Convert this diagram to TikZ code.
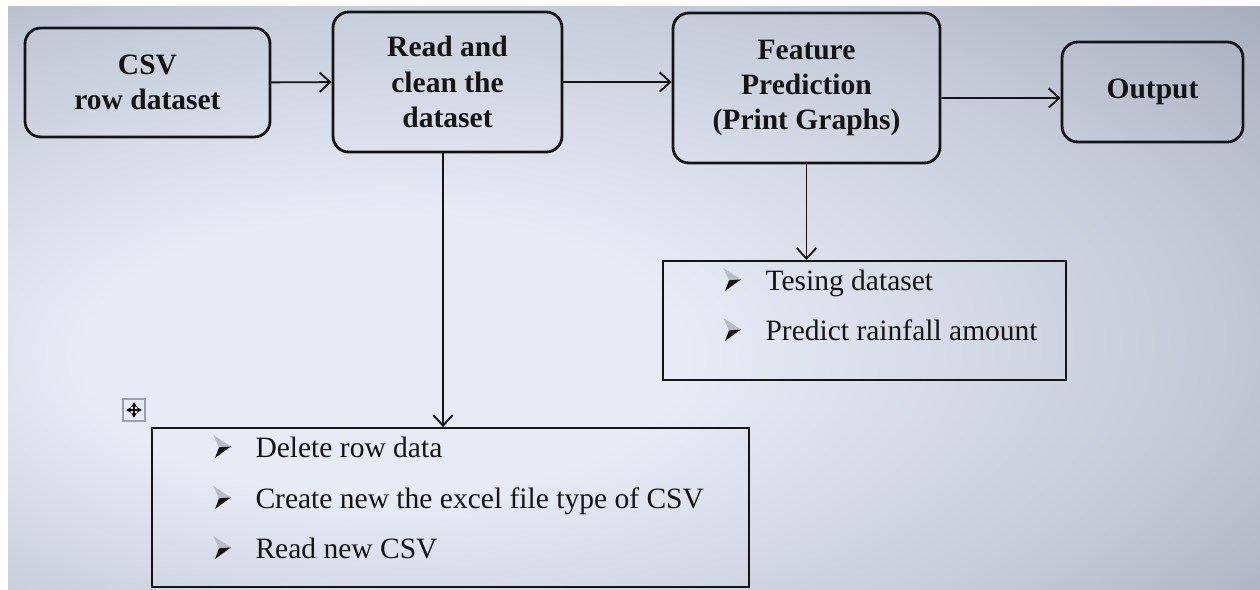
\documentclass[tikz,border=0pt]{standalone}
\usepackage{fontspec}
\setmainfont{Liberation Serif}
\usetikzlibrary{arrows.meta,positioning}
\definecolor{flink}{HTML}{141414}
\definecolor{bgcentre}{HTML}{E6EBF6}
\definecolor{bgmid}{HTML}{C4CAD7}
\definecolor{bgedge}{HTML}{9096A7}
\definecolor{bgcorner}{HTML}{60667A}
\definecolor{gripgray}{HTML}{9AA0AE}
\definecolor{dartlight}{HTML}{B8BCC6}
\pgfdeclareradialshading{vignette}{\pgfpoint{-12bp}{-6bp}}{color(0bp)=(bgcentre); color(12bp)=(bgcentre); color(30bp)=(bgmid); color(50bp)=(bgedge); color(72bp)=(bgcorner)}
% top-lit arrowhead used as list bullet
\newcommand{\itemarrow}{\makebox[24pt][l]{\tikz[x=1pt,y=1pt,baseline=0pt]{%
  \fill[dartlight] (0,12.5) -- (10,6) -- (3.2,5.5) -- cycle;
  \fill[flink] (3.2,5.5) -- (10,6) -- (1,-0.5) -- cycle;}}}
\tikzset{
  stage/.style={rectangle,rounded corners=9pt,draw=flink,line width=1.6pt,align=center,font=\fontsize{16.8}{20}\selectfont\bfseries,text=flink,inner sep=2pt},
  listbox/.style={rectangle,draw=flink,line width=1.1pt,inner sep=0pt},
  listitem/.style={anchor=base west,inner sep=0pt,font=\fontsize{16.8}{20}\selectfont,text=flink},
  flow/.style={-{Straight Barb[length=6pt,width=11pt]},draw=flink,line width=1.1pt},
  grip/.style={rectangle,draw=gripgray,fill=bgcentre,line width=.6pt,minimum size=.44cm,inner sep=0pt},
  griparrow/.style={-{Latex[length=2.6pt,width=3.4pt]},draw=black,line width=1pt},
}

\begin{document}
\begin{tikzpicture}[x=0.02cm,y=-0.02cm]
  \useasboundingbox (0,0) rectangle (1260,589);
  \fill[white] (0,0) rectangle (1260,589);
  \shade[shading=vignette] (8,6) rectangle (1260,589);
  % processing stages
  \node[stage,minimum width=4.9cm,minimum height=2.18cm] (csv) at (147.5,82.5) {CSV\\row dataset};
  \node[stage,minimum width=4.58cm,minimum height=2.8cm] (read) at (447.5,82) {Read and\\clean the\\dataset};
  \node[stage,minimum width=5.34cm,minimum height=3cm] (feat) at (806.5,88) {Feature\\Prediction\\(Print Graphs)};
  \node[stage,minimum width=3.62cm,minimum height=2cm] (out) at (1152.5,92) {Output};
  % detail lists
  \node[listbox,minimum width=8.06cm,minimum height=2.38cm] (testlist) at (864.5,320.5) {};
  \node[listitem] (t1) at (723,290) {\itemarrow Tesing dataset};
  \node[listitem] (t2) at (723,340) {\itemarrow Predict rainfall amount};
  \node[listbox,minimum width=11.94cm,minimum height=3.18cm] (cleanlist) at (450.5,507.5) {};
  \node[listitem] (c1) at (213,457) {\itemarrow Delete row data};
  \node[listitem] (c2) at (213,508) {\itemarrow Create new the excel file type of CSV};
  \node[listitem] (c3) at (213,558) {\itemarrow Read new CSV};
  % move handle of the table
  \node[grip] (handle) at (134,410) {};
  \draw[griparrow] (handle.center) -- ++(0,-8);
  \draw[griparrow] (handle.center) -- ++(0,8);
  \draw[griparrow] (handle.center) -- ++(-8,0);
  \draw[griparrow] (handle.center) -- ++(8,0);
  % connectors
  \draw[flow] (csv) -- (read);
  \draw[flow] (read.east) -- (read.east -| feat.west);
  \draw[flow] ([yshift=-.2cm]feat.east) -- ([yshift=-.12cm]out.west);
  \draw[flow] ([xshift=-.09cm]read.south) -- ([xshift=-.09cm]read.south |- cleanlist.north);
  \draw[flow] (feat.south) -- (feat.south |- testlist.north);
\end{tikzpicture}
\end{document}
